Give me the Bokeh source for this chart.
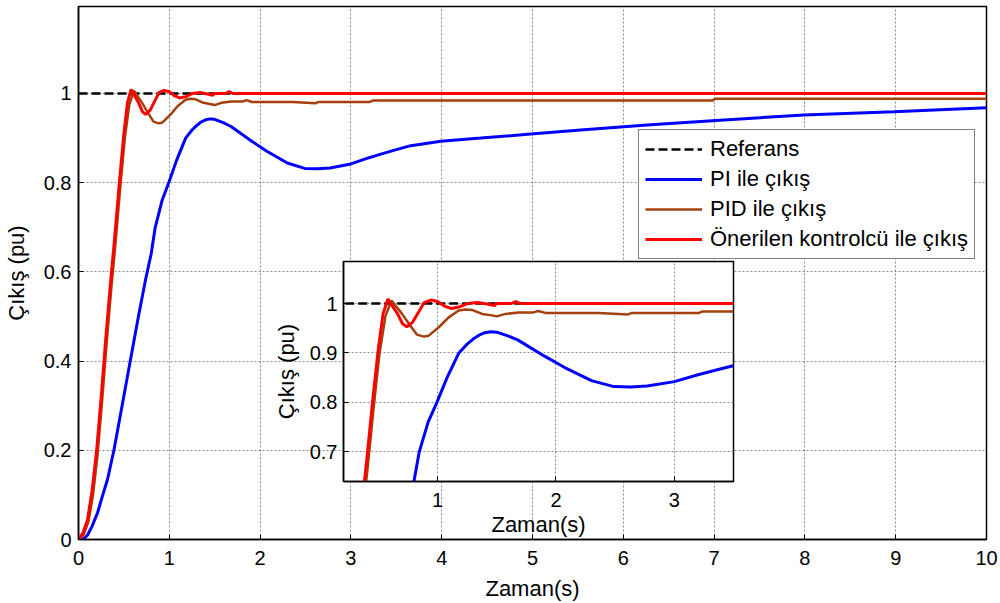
from bokeh.plotting import figure
from bokeh.models import (Range1d, FixedTicker, Legend, LegendItem,
                          GridBox, NumeralTickFormatter)
from bokeh.embed import file_html
from bokeh.resources import INLINE

FONT = "Liberation Sans"

# ---------------- data ----------------
t_ref = [0, 10]
y_ref = [1, 1]

t_pi = [0, 0.06, 0.1, 0.15, 0.21, 0.26, 0.32, 0.39, 0.48, 0.57, 0.66, 0.74, 0.8, 0.845, 0.92,
        0.994, 1.08, 1.18, 1.25, 1.3, 1.35, 1.4, 1.45, 1.5, 1.6, 1.68, 1.9, 2.07, 2.3, 2.49,
        2.63, 2.77, 3.0, 3.2, 3.33, 3.48, 3.66, 3.99, 4.43, 4.98, 5.53, 5.97, 6.3, 6.98,
        7.99, 8.98, 10]
y_pi = [0, 0.002, 0.01, 0.03, 0.06, 0.095, 0.135, 0.2, 0.3, 0.4, 0.5, 0.584, 0.64, 0.7, 0.76,
        0.8, 0.85, 0.9, 0.918, 0.928, 0.936, 0.941, 0.943, 0.942, 0.934, 0.926, 0.894, 0.871,
        0.844, 0.832, 0.831, 0.833, 0.842, 0.856, 0.864, 0.873, 0.883, 0.893, 0.9, 0.909,
        0.918, 0.925, 0.93, 0.939, 0.952, 0.959, 0.968]

t_pid = [0, 0.05, 0.1, 0.15, 0.2, 0.25, 0.3, 0.35, 0.4, 0.45, 0.5, 0.55, 0.6,
         0.69, 0.76, 0.816, 0.873, 0.915, 1.0, 1.084, 1.168, 1.225, 1.28, 1.366, 1.45,
         1.49, 1.563, 1.676, 1.8, 1.84, 1.9, 2.35, 2.6, 2.63, 3.2, 3.23, 6.97, 7.0, 10]
y_pid = [0, 0.012, 0.04, 0.1, 0.19, 0.31, 0.44, 0.56, 0.67, 0.79, 0.9, 0.975, 1.006,
         0.979, 0.955, 0.937, 0.933, 0.935, 0.952, 0.972, 0.986, 0.988, 0.987, 0.979, 0.976,
         0.974, 0.979, 0.982, 0.982, 0.985, 0.981, 0.981, 0.978, 0.981, 0.981, 0.984, 0.984,
         0.988, 0.988]

t_new = [0, 0.05, 0.1, 0.15, 0.2, 0.25, 0.3, 0.35, 0.4, 0.45, 0.5, 0.54, 0.58,
         0.662, 0.704, 0.74, 0.788, 0.845, 0.887, 0.943, 1.0, 1.056, 1.112, 1.183, 1.253,
         1.338, 1.42, 1.48, 1.5, 1.62, 1.66, 1.7, 10]
y_new = [0, 0.015, 0.045, 0.11, 0.2, 0.32, 0.45, 0.57, 0.68, 0.8, 0.91, 0.98, 1.009,
         0.979, 0.959, 0.953, 0.962, 0.985, 1.002, 1.007, 1.004, 0.995, 0.99, 0.993, 1.0,
         1.002, 0.999, 0.996, 1.0, 1.0, 1.004, 1.0, 1.0]

labels = ["Referans", "PI ile çıkış", "PID ile çıkış", "Önerilen kontrolcü ile çıkış"]

main_xticks = [0, 1, 2, 3, 4, 5, 6, 7, 8, 9, 10]
main_yticks = [0, 0.2, 0.4, 0.6, 0.8, 1]
inset_xticks = [1, 2, 3]
inset_yticks = [0.7, 0.8, 0.9, 1]

C_REF, C_PI, C_PID, C_NEW = "black", "#0000FF", "#A3400C", "#FF0000"


def style_axes(p, xt, yt, xstand, ystand, xlab_st, ylab_st):
    p.xaxis.ticker = FixedTicker(ticks=xt)
    p.yaxis.ticker = FixedTicker(ticks=yt)
    p.xgrid.ticker = FixedTicker(ticks=xt)
    p.ygrid.ticker = FixedTicker(ticks=yt)
    for g in (p.xgrid[0], p.ygrid[0]):
        g.grid_line_color = "#8a8a8a"
        g.grid_line_dash = "2 2"
        g.grid_line_width = 1
    for ax in (p.xaxis[0], p.yaxis[0]):
        ax.formatter = NumeralTickFormatter(format="0.[0]")
        ax.major_tick_in = 5
        ax.major_tick_out = 0
        ax.minor_tick_in = 0
        ax.minor_tick_out = 0
        ax.axis_line_color = "black"
        ax.axis_line_width = 1.5
        ax.major_tick_line_color = "black"
        ax.major_label_text_font = FONT
        ax.major_label_text_font_size = "20px"
        ax.major_label_text_color = "black"
        ax.axis_label_text_font = FONT
        ax.axis_label_text_font_size = "22px"
        ax.axis_label_text_font_style = "normal"
        ax.axis_label_text_color = "black"
    p.xaxis[0].major_label_standoff = xstand
    p.yaxis[0].major_label_standoff = ystand
    p.xaxis[0].axis_label_standoff = xlab_st
    p.yaxis[0].axis_label_standoff = ylab_st
    p.outline_line_color = "black"
    p.outline_line_width = 1.5


def draw(p):
    r0 = p.line(t_ref, y_ref, line_color=C_REF, line_width=2.5, line_dash="9 4")
    r1 = p.line(t_pi, y_pi, line_color=C_PI, line_width=3)
    r2 = p.line([t + 0.01 for t in t_pid], y_pid, line_color=C_PID, line_width=2.5)
    r3 = p.line(t_new, y_new, line_color=C_NEW, line_width=3)
    return [r0, r1, r2, r3]


# ---------------- main figure ----------------
p = figure(width=1000, height=603, x_range=Range1d(0, 10), y_range=Range1d(0, 1.195),
           output_backend="svg", toolbar_location=None,
           min_border_left=78, min_border_right=14, min_border_top=6, min_border_bottom=63,
           background_fill_color="white", border_fill_color="white")
p.xaxis.axis_label = "Zaman(s)"
p.yaxis.axis_label = "Çıkış (pu)"
style_axes(p, main_xticks, main_yticks, 11, 7, 8, 12)
rs = draw(p)

legend = Legend(items=[LegendItem(label=l, renderers=[r]) for l, r in zip(labels, rs)],
                location=(560, 280), orientation="vertical",
                label_text_font=FONT, label_text_font_size="22px", label_text_color="black",
                glyph_width=57, glyph_height=22, label_height=22, label_standoff=8,
                spacing=4, padding=6, margin=0,
                border_line_color="black", border_line_width=1,
                background_fill_color="white", background_fill_alpha=1)
p.add_layout(legend)

# ---------------- inset figure ----------------
q = figure(width=478, height=289, x_range=Range1d(0.205, 3.5), y_range=Range1d(0.64, 1.085),
           output_backend="svg", toolbar_location=None,
           min_border_left=83, min_border_right=5, min_border_top=6, min_border_bottom=63,
           background_fill_color="white", border_fill_color=None, border_fill_alpha=0)
q.xaxis.axis_label = "Zaman(s)"
q.yaxis.axis_label = "Çıkış (pu)"
style_axes(q, inset_xticks, inset_yticks, 11, 6, 2, 8)
draw(q)

layout = GridBox(children=[(p, 0, 0, 3, 3), (q, 1, 1, 1, 1)],
                 rows=["255px", "289px", "59px"], cols=["260px", "478px", "262px"],
                 width=1000, height=603)

open("out.html", "w").write(file_html(layout, INLINE))
